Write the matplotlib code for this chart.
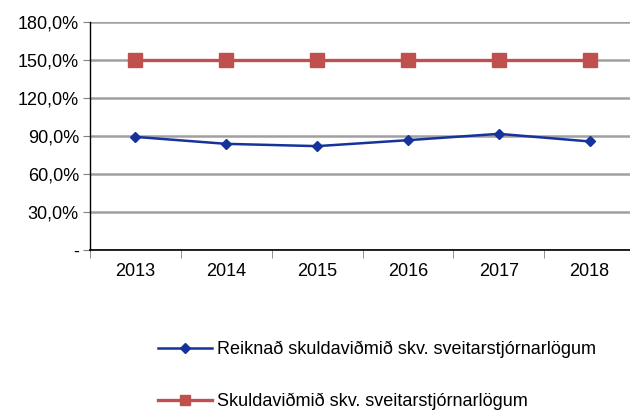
import matplotlib
matplotlib.use("Agg")
import matplotlib.pyplot as plt
from matplotlib.ticker import FuncFormatter

plt.rcParams['font.family'] = ['Liberation Sans', 'DejaVu Sans']

years = ['2013', '2014', '2015', '2016', '2017', '2018']
reiknad = [89.3, 83.8, 82.0, 86.7, 91.7, 85.7]
skuldavidmid = [150.0, 150.0, 150.0, 150.0, 150.0, 150.0]
labels = ['Reiknað skuldaviðmið skv. sveitarstjórnarlögum',
          'Skuldaviðmið skv. sveitarstjórnarlögum']

fig = plt.figure(figsize=(6.3, 4.12), dpi=100)
ax = fig.add_axes([90 / 630, 162 / 412, 545 / 630, 228 / 412])

x = range(len(years))
l1, = ax.plot(x, reiknad, color='#16339a', lw=1.8, marker='D', markersize=5, zorder=3)
l2, = ax.plot(x, skuldavidmid, color='#c0504d', lw=2.4, marker='s', markersize=10, zorder=3)

ax.set_xlim(-0.5, 5.5)
ax.set_ylim(0, 180)
ax.set_yticks(range(0, 181, 30))

def pct(v, pos):
    if v == 0:
        return '-'
    return f'{v:.1f}%'.replace('.', ',')

ax.yaxis.set_major_formatter(FuncFormatter(pct))
ax.grid(axis='y', color='#a0a0a0', lw=1.8)
ax.set_axisbelow(True)

# category labels centered, ticks on category boundaries
ax.set_xticks(list(x))
ax.set_xticklabels(years)
ax.tick_params(axis='x', length=0, pad=9, labelsize=13)
ax.set_xticks([i - 0.5 for i in range(len(years) + 1)], minor=True)
ax.tick_params(axis='x', which='minor', length=6, color='#808080', direction='out')
ax.tick_params(axis='y', length=5, color='#808080', direction='out', labelsize=13, pad=3)

for s in ['top', 'right']:
    ax.spines[s].set_visible(False)
ax.spines['left'].set_color('black')
ax.spines['bottom'].set_color('black')
ax.spines['left'].set_linewidth(1.0)
ax.spines['bottom'].set_linewidth(1.2)

leg = fig.legend([l1, l2], labels, loc='upper left', bbox_to_anchor=(158 / 630, 1 - 341 / 412),
                 frameon=False, fontsize=13, handlelength=3.0, handletextpad=0.25,
                 labelspacing=1.9, borderaxespad=0, borderpad=0)
leg.legend_handles[1].set_markersize(7)

fig.savefig('out.png', dpi=100)
